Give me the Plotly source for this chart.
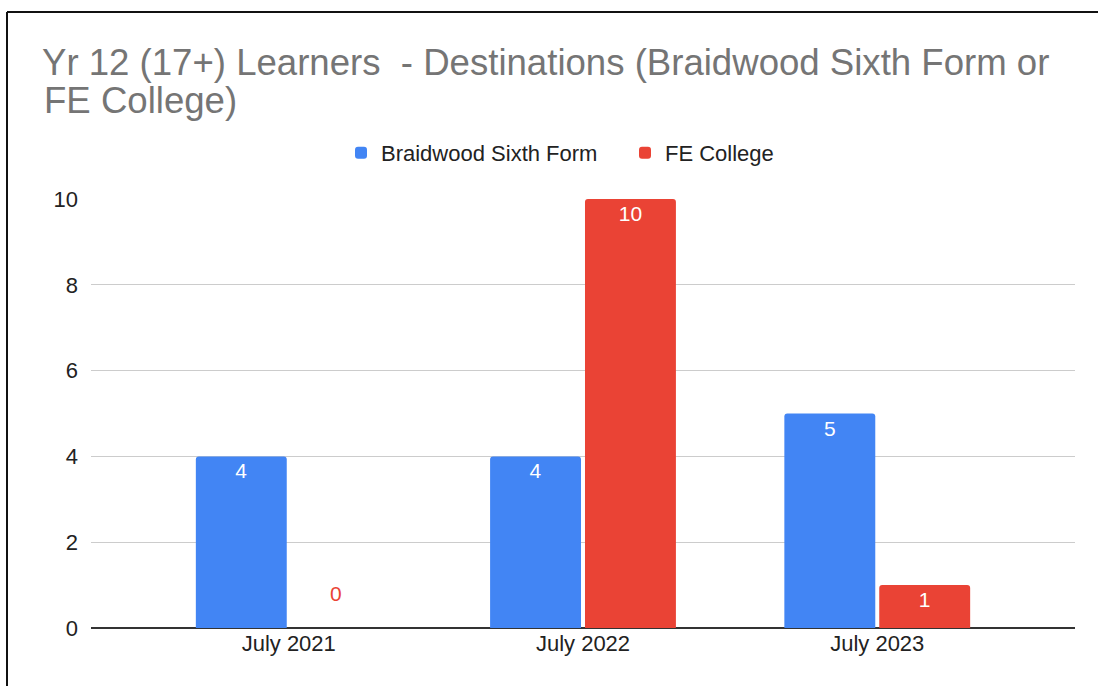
import plotly.graph_objects as go

categories = ["July 2021", "July 2022", "July 2023"]
braidwood = [4, 4, 5]
fe_college = [0, 10, 1]
series_names = ["Braidwood Sixth Form", "FE College"]
title_line1 = "Yr 12 (17+) Learners \u00a0- Destinations (Braidwood Sixth Form or"
title_line2 = "FE College)"
y_ticks = [0, 2, 4, 6, 8, 10]

BLUE = "#4285F4"
RED = "#EA4335"
FONT = "Liberation Sans, Arial, sans-serif"
TXT = "#222222"

W, H = 1098, 686
L, R, T, B = 91, 23, 199, 58
pw = W - L - R
ph = H - T - B
BARGAP, GROUPGAP = 0.355, 0.042
CAT_PX = pw / (2.672 + 0.672)  # pixels per category

fig = go.Figure()
series = [(series_names[0], braidwood, BLUE), (series_names[1], fe_college, RED)]
for name, vals, color in series:
    fig.add_trace(go.Bar(
        x=categories, y=vals, name=name,
        marker=dict(color=color, line=dict(width=0)),
        text=["" if v == 0 else str(v) for v in vals],
        textposition="inside",
        insidetextanchor="end",
        insidetextfont=dict(family=FONT, size=21, color="white"),
        cliponaxis=False,
        hoverinfo="skip",
    ))

# labels for zero-height bars (drawn above the baseline, in the series colour)
annotations = []
slot_px = CAT_PX * (1 - BARGAP) / len(series)
for si, (name, vals, color) in enumerate(series):
    offset = (si - (len(series) - 1) / 2) * slot_px
    for c, v in zip(categories, vals):
        if v == 0:
            annotations.append(dict(
                x=c, y=v, xref="x", yref="y", text=str(v), showarrow=False,
                xshift=offset, yshift=35, yanchor="middle",
                font=dict(family=FONT, size=21, color=color),
            ))

annotations.append(dict(
    text=title_line2, xref="paper", yref="paper",
    x=(42 - L) / pw, xanchor="left", y=(H - B - 101) / ph, yanchor="middle",
    showarrow=False, font=dict(family=FONT, size=36.6, color="#757575"),
))

fig.update_layout(
    width=W, height=H,
    margin=dict(l=L, r=R, t=T, b=B, pad=0),
    paper_bgcolor="white", plot_bgcolor="white",
    barmode="group", bargap=BARGAP, bargroupgap=GROUPGAP,
    barcornerradius=3,
    font=dict(family=FONT, size=22, color=TXT),
    title=dict(
        text=title_line1, xref="container", yref="container",
        x=42 / W, xanchor="left", y=1 - 62 / H, yanchor="middle",
        font=dict(family=FONT, size=36.6, color="#757575"),
    ),
    annotations=annotations,
    legend=dict(
        orientation="h", xref="paper", yref="paper",
        x=(341 - L) / pw, xanchor="left", y=(H - B - 153) / ph, yanchor="middle",
        font=dict(family=FONT, size=22, color=TXT),
        bgcolor="rgba(0,0,0,0)", traceorder="normal",
        entrywidth=239, entrywidthmode="pixels",
    ),
    xaxis=dict(
        type="category", range=[-0.672, 2.672], showgrid=False,
        showline=False, ticks="", tickfont=dict(family=FONT, size=22, color=TXT),
        fixedrange=True,
    ),
    yaxis=dict(
        range=[0, 10], tickvals=y_ticks, showgrid=True, gridcolor="#CCCCCC", gridwidth=1,
        zeroline=True, zerolinecolor="#333333", zerolinewidth=2,
        showline=False, ticks="", ticklabelstandoff=12,
        tickfont=dict(family=FONT, size=22, color=TXT),
        fixedrange=True,
    ),
    shapes=[
        dict(type="line", xref="paper", yref="paper",
             x0=(7 - L) / pw, x1=(W - L) / pw + 0.01, y0=(H - B - 12) / ph, y1=(H - B - 12) / ph,
             line=dict(color="#111111", width=2)),
        dict(type="line", xref="paper", yref="paper",
             x0=(7 - L) / pw, x1=(7 - L) / pw, y0=(H - B - 12) / ph, y1=-B / ph - 0.01,
             line=dict(color="#111111", width=2)),
    ],
)

fig.write_html(
    "out.html",
    config={"displayModeBar": False},
    post_script="document.body.style.margin='0';document.body.style.overflow='hidden';",
)
